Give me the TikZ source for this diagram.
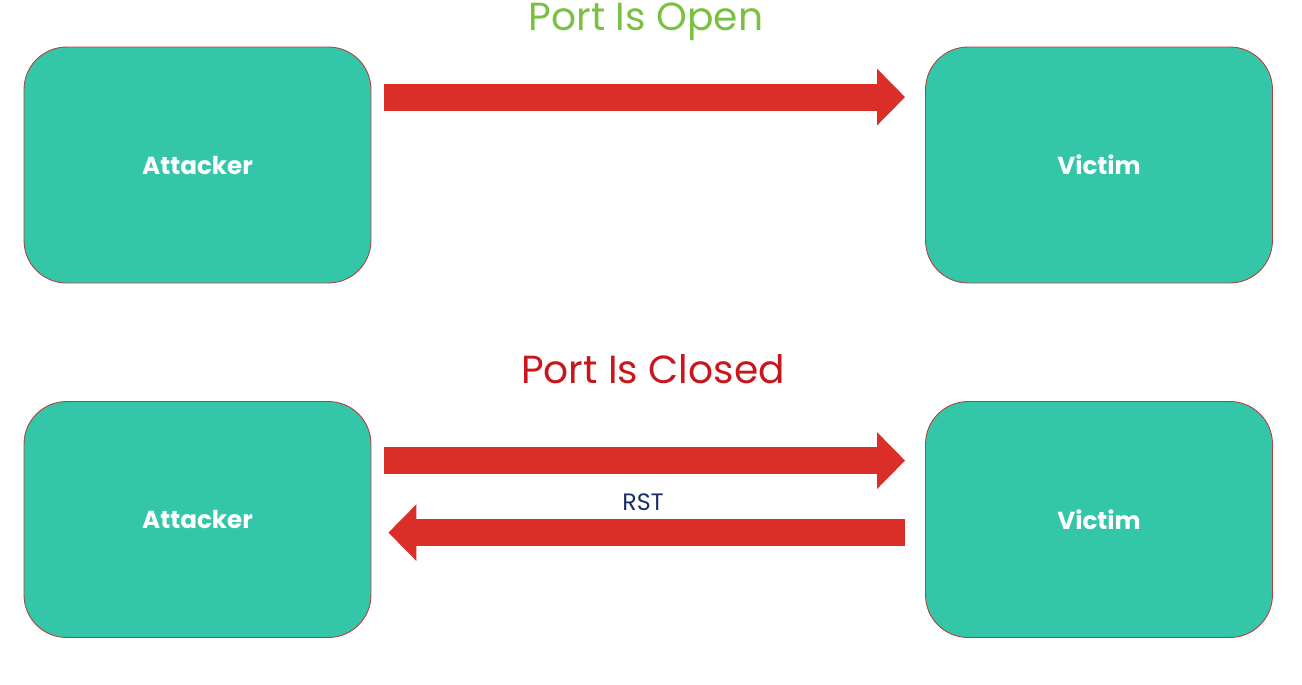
\documentclass[tikz,border=0pt]{standalone}
\usepackage{fontspec}
\setmainfont{Poppins}
\usetikzlibrary{arrows.meta,calc}
\definecolor{boxteal}{HTML}{34C6A8}
\definecolor{boxedge}{HTML}{B0413E}
\definecolor{arrowred}{HTML}{DC2E28}
\definecolor{opengreen}{HTML}{7AC143}
\definecolor{closedred}{HTML}{C8161D}
\definecolor{rstnavy}{HTML}{1B2A6B}
\begin{document}
\begin{tikzpicture}[x=0.02cm,y=-0.02cm,
		hostbox/.style={draw=boxedge,line width=0.5pt,fill=boxteal,rounded corners=0.85cm,
			minimum width=6.94cm,minimum height=4.72cm,text=white,
			font=\fontsize{14}{16}\selectfont\bfseries},
		blockarrow/.style={draw=arrowred,line width=0.54cm,
			-{Triangle[length=0.56cm,width=1.1cm,fill=arrowred]}},
		title/.style={anchor=base,font=\fontsize{22.3}{26}\selectfont}]
		\useasboundingbox (0,0) rectangle (1302,684);
		%Hosts, port open
		\node [hostbox] (att1) at (197.5,165) {Attacker};
		\node [hostbox] (vic1) at (1099,165) {Victim};
		%Hosts, port closed
		\node [hostbox] (att2) at (197.5,519.5) {Attacker};
		\node [hostbox] (vic2) at (1099,519.5) {Victim};
		%Titles
		\node [title,text=opengreen] (opentitle) at (646,30) {Port Is Open};
		\node [title,text=closedred] (closedtitle) at (653,383) {Port Is Closed};
		%Probe that gets through
		\draw [blockarrow] ($(att1.north east)+(13,50.5)$) -- ($(vic1.north west)+(-20,50.5)$);
		%Probe and reset
		\draw [blockarrow] ($(att2.north east)+(13,59.5)$) -- ($(vic2.north west)+(-20,59.5)$);
		\draw [blockarrow] ($(vic2.north west)+(-20,131.5)$) -- ($(att2.north east)+(17,131.5)$);
		\node [anchor=base,text=rstnavy,font=\fontsize{13.5}{16}\selectfont] (rst) at (643,510) {RST};
\end{tikzpicture}
\end{document}
